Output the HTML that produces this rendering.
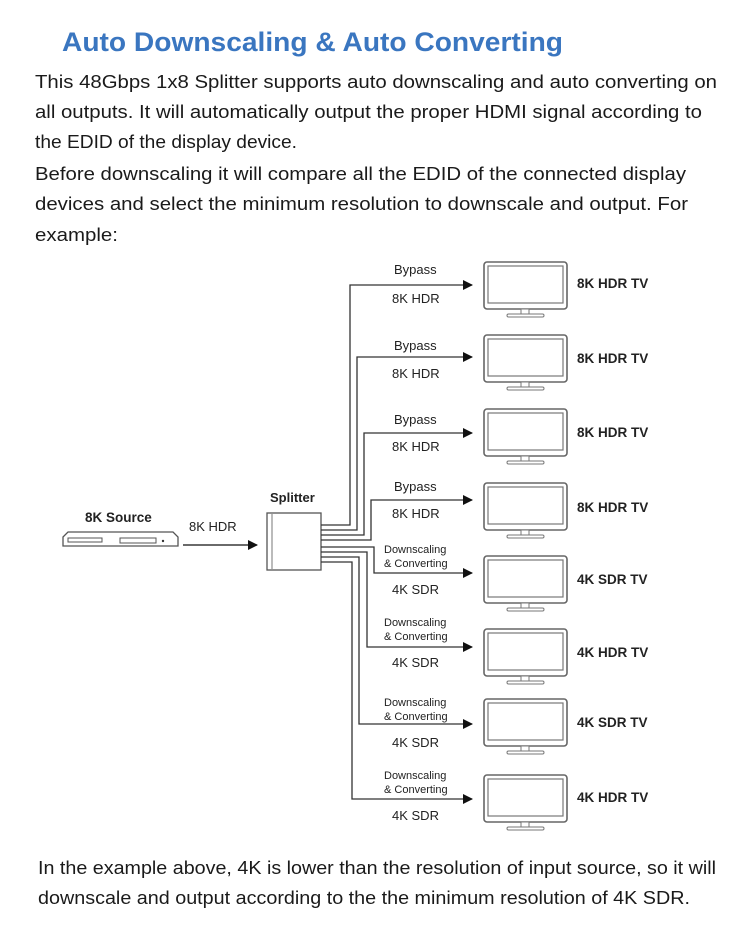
<!DOCTYPE html>
<html><head><meta charset="utf-8"><style>
html,body{margin:0;padding:0;background:#fff;}
svg{display:block;}
text{font-family:"Liberation Sans",Arial,sans-serif;}
</style></head><body>
<svg width="750" height="949" viewBox="0 0 750 949" xmlns="http://www.w3.org/2000/svg">
<defs>
<marker id="ar" markerWidth="10" markerHeight="10" refX="9" refY="5" orient="auto" markerUnits="userSpaceOnUse">
<path d="M0,0 L10,5 L0,10 z" fill="#111"/></marker>
<g id="tv">
<rect x="484" y="-23" width="83" height="47" rx="3" fill="#fff" stroke="#666" stroke-width="1.6"/>
<rect x="488" y="-19" width="75" height="37" fill="#fff" stroke="#777" stroke-width="1.2"/>
<rect x="521" y="24" width="8" height="5" fill="#fff" stroke="#777" stroke-width="1"/>
<rect x="507" y="29" width="37" height="3" rx="1.5" fill="#fff" stroke="#777" stroke-width="1"/>
</g>
</defs>
<text x="62" y="51" font-size="27" font-weight="bold" fill="#3a76c0" textLength="501" lengthAdjust="spacingAndGlyphs">Auto Downscaling &amp; Auto Converting</text>
<g font-size="18.5" fill="#1a1a1a">
<text x="35" y="88" textLength="682" lengthAdjust="spacingAndGlyphs">This 48Gbps 1x8 Splitter supports auto downscaling and auto converting on</text>
<text x="35" y="118" textLength="667" lengthAdjust="spacingAndGlyphs">all outputs. It will automatically output the proper HDMI signal according to</text>
<text x="35" y="148" textLength="262" lengthAdjust="spacingAndGlyphs">the EDID of the display device.</text>
<text x="35" y="180" textLength="651" lengthAdjust="spacingAndGlyphs">Before downscaling it will compare all the EDID of the connected display</text>
<text x="35" y="210" textLength="653" lengthAdjust="spacingAndGlyphs">devices and select the minimum resolution to downscale and output. For</text>
<text x="35" y="241" textLength="83" lengthAdjust="spacingAndGlyphs">example:</text>
<text x="38" y="874" textLength="678" lengthAdjust="spacingAndGlyphs">In the example above, 4K is lower than the resolution of input source, so it will</text>
<text x="38" y="904" textLength="652" lengthAdjust="spacingAndGlyphs">downscale and output according to the the minimum resolution of 4K SDR.</text>
</g>
<!-- source -->
<text x="85" y="522" font-size="13.5" font-weight="bold" fill="#222">8K Source</text>
<path d="M63,537 L68,532 L173,532 L178,537 L178,546 L63,546 z" fill="#fff" stroke="#555" stroke-width="1.3"/>
<rect x="68" y="538" width="34" height="4" fill="#fff" stroke="#555"/>
<rect x="120" y="538" width="36" height="5" fill="#fff" stroke="#555"/>
<circle cx="163" cy="541" r="1.2" fill="#333"/>
<text x="189" y="531" font-size="13" fill="#222">8K HDR</text>
<line x1="183" y1="545" x2="257" y2="545" stroke="#111" stroke-width="1.3" marker-end="url(#ar)"/>
<!-- splitter -->
<text x="270" y="502" font-size="13" font-weight="bold" fill="#222">Splitter</text>
<rect x="267" y="513" width="54" height="57" fill="#fff" stroke="#555" stroke-width="1.3"/>
<line x1="272" y1="514" x2="272" y2="569" stroke="#777" stroke-width="1"/>
<g fill="none" stroke="#333" stroke-width="1.3">
<polyline points="321,525 350,525 350,285 472,285" marker-end="url(#ar)"/>
<polyline points="321,530 357,530 357,357 472,357" marker-end="url(#ar)"/>
<polyline points="321,535 364,535 364,433 472,433" marker-end="url(#ar)"/>
<polyline points="321,540 371,540 371,500 472,500" marker-end="url(#ar)"/>
<polyline points="321,547 374,547 374,573 472,573" marker-end="url(#ar)"/>
<polyline points="321,552 367,552 367,647 472,647" marker-end="url(#ar)"/>
<polyline points="321,557 359,557 359,724 472,724" marker-end="url(#ar)"/>
<polyline points="321,562 352,562 352,799 472,799" marker-end="url(#ar)"/>
</g>
<g font-size="13" fill="#222">
<text x="394" y="274">Bypass</text><text x="392" y="303">8K HDR</text>
<text x="394" y="350">Bypass</text><text x="392" y="378">8K HDR</text>
<text x="394" y="424">Bypass</text><text x="392" y="451">8K HDR</text>
<text x="394" y="491">Bypass</text><text x="392" y="518">8K HDR</text>
<text x="392" y="594">4K SDR</text><text x="392" y="667">4K SDR</text>
<text x="392" y="747">4K SDR</text><text x="392" y="820">4K SDR</text>
</g>
<g font-size="11" fill="#222">
<text x="384" y="553">Downscaling</text><text x="384" y="567">&amp; Converting</text>
<text x="384" y="626">Downscaling</text><text x="384" y="640">&amp; Converting</text>
<text x="384" y="706">Downscaling</text><text x="384" y="720">&amp; Converting</text>
<text x="384" y="779">Downscaling</text><text x="384" y="793">&amp; Converting</text>
</g>
<use href="#tv" y="285"/><use href="#tv" y="358"/><use href="#tv" y="432"/><use href="#tv" y="506"/>
<use href="#tv" y="579"/><use href="#tv" y="652"/><use href="#tv" y="722"/><use href="#tv" y="798"/>
<g font-size="13.5" font-weight="bold" fill="#222">
<text x="577" y="288">8K HDR TV</text><text x="577" y="363">8K HDR TV</text>
<text x="577" y="437">8K HDR TV</text><text x="577" y="512">8K HDR TV</text>
<text x="577" y="584">4K SDR TV</text><text x="577" y="657">4K HDR TV</text>
<text x="577" y="727">4K SDR TV</text><text x="577" y="802">4K HDR TV</text>
</g>
</svg>
</body></html>
